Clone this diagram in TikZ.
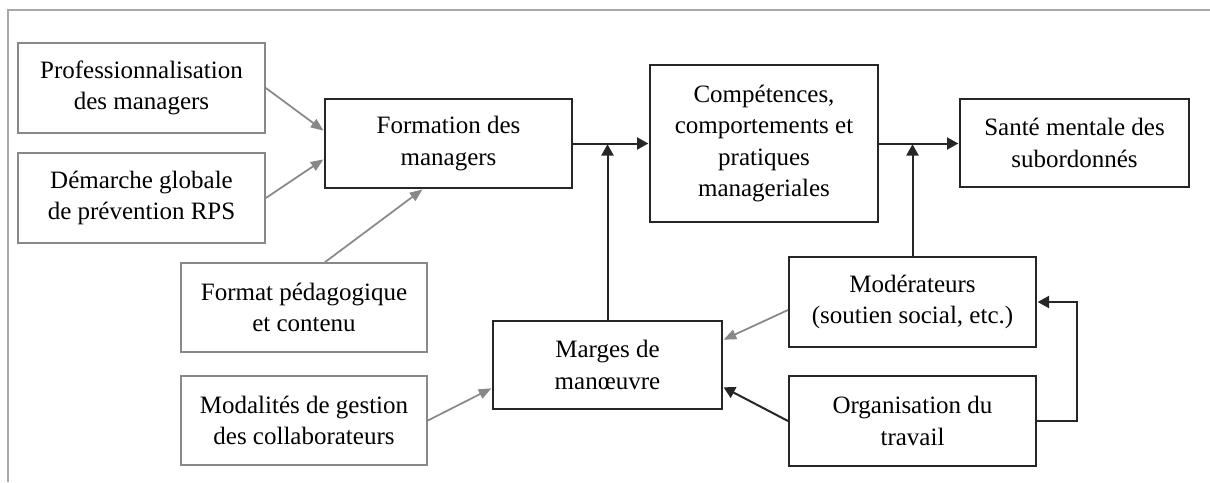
\documentclass[tikz,border=0pt]{standalone}
\usepackage{fontspec}
\setmainfont{Liberation Serif}
\usetikzlibrary{arrows.meta,calc}
\definecolor{boxgray}{HTML}{888888}
\definecolor{framegray}{HTML}{A8A8A8}
\tikzset{
  base/.style={rectangle, align=center, inner sep=0pt, font=\fontsize{18.75}{23.6}\selectfont, fill=white},
  gbox/.style={base, draw=boxgray, line width=1.3pt},
  bbox/.style={base, draw=black!85, line width=1.5pt},
  garrow/.style={draw=boxgray, line width=1.3pt, -{Triangle[length=9.5pt,width=7.5pt]}, shorten >=0.5pt},
  barrow/.style={draw=black!85, line width=1.5pt, -{Triangle[length=8.5pt,width=9pt]}, shorten >=0.5pt},
}
\begin{document}
\begin{tikzpicture}[x=0.75pt,y=-0.75pt]
\useasboundingbox (0,0) rectangle (1210,482);
\draw[framegray, line width=1pt] (8,482) -- (8,10) -- (1210,10);

\node[gbox, minimum width=247*0.75pt, minimum height=90*0.75pt] (prof) at (141.5,88) {Professionnalisation\\des managers};
\node[gbox, minimum width=247*0.75pt, minimum height=90*0.75pt] (dem) at (141.5,198) {Démarche globale\\de prévention RPS};
\node[gbox, minimum width=246*0.75pt, minimum height=89*0.75pt] (fmt) at (304,307.5) {Format pédagogique\\et contenu};
\node[gbox, minimum width=246*0.75pt, minimum height=89*0.75pt] (modal) at (304,420.5) {Modalités de gestion\\des collaborateurs};

\node[bbox, minimum width=247*0.75pt, minimum height=89*0.75pt] (form) at (448.5,143.5) {Formation des\\managers};
\node[bbox, minimum width=229*0.75pt, minimum height=88*0.75pt] (marges) at (607.5,365) {Marges de\\manœuvre};
\node[bbox, minimum width=228*0.75pt, minimum height=157*0.75pt] (comp) at (764,143.5) {Compétences,\\comportements et\\pratiques\\manageriales};
\node[bbox, minimum width=229*0.75pt, minimum height=88*0.75pt] (sante) at (1074.5,143) {Santé mentale des\\subordonnés};
\node[bbox, minimum width=247*0.75pt, minimum height=90*0.75pt] (mod) at (912.5,302) {Modérateurs\\(soutien social, etc.)};
\node[bbox, minimum width=247*0.75pt, minimum height=90*0.75pt] (org) at (912.5,421) {Organisation du\\travail};

% gray arrows
\draw[garrow] (prof.east) -- ($(form.west)+(0,-12.5)$);
\draw[garrow] (dem.east) -- ($(form.west)+(0,15.5)$);
\draw[garrow] ($(fmt.north)+(21,0)$) -- ($(form.south)+(-25.5,0)$);
\draw[garrow] (modal.east) -- ($(marges.west)+(0,23)$);
\draw[garrow] ($(mod.west)+(0,8)$) -- ($(marges.east)+(0,-25)$);

% black arrows
\draw[barrow] (org.west) -- ($(marges.east)+(0,22)$);
\draw[barrow] (form.east) -- (comp.west);
\draw[barrow] (marges.north) -- (marges.north |- form.east);
\draw[barrow] (comp.east) -- (sante.west |- comp.east);
\draw[barrow] (mod.north) -- (mod.north |- comp.east);
\draw[barrow] (org.east) -- ++(40,0) |- (mod.east);
\end{tikzpicture}
\end{document}
